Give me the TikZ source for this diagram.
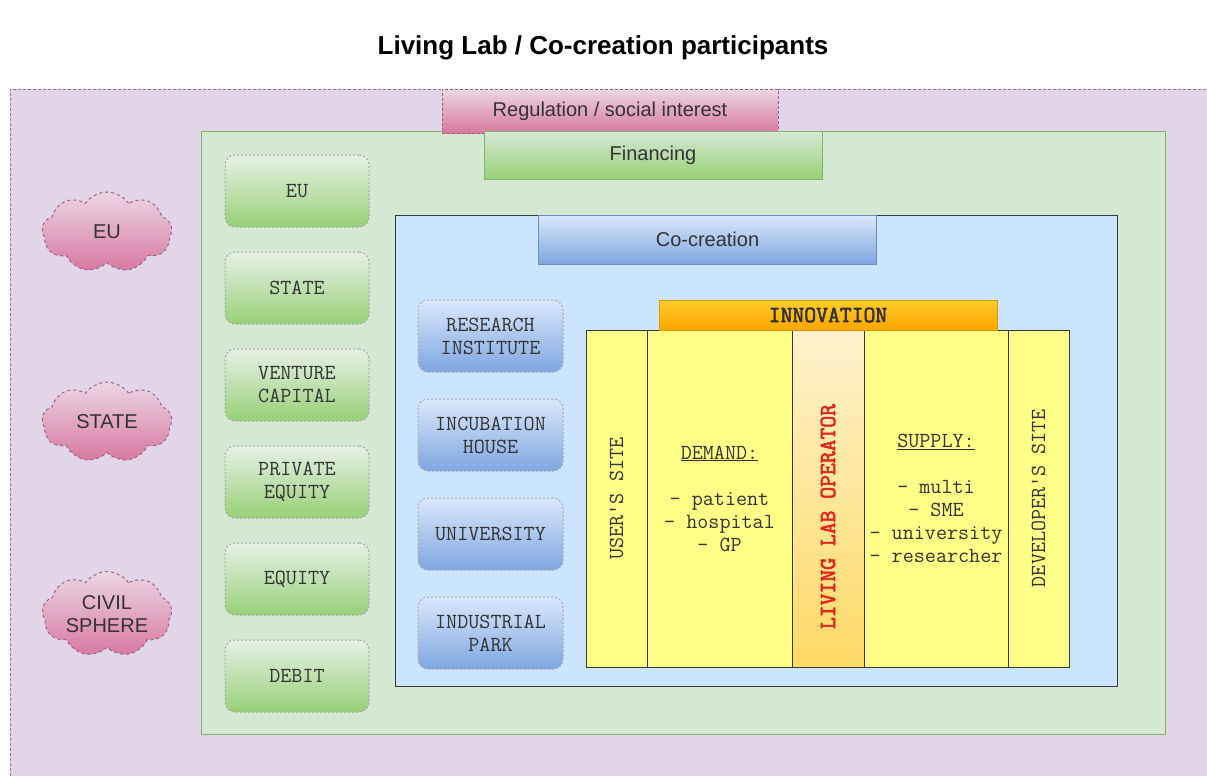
\documentclass[tikz,border=0pt]{standalone}
\usepackage{fontspec}
\setsansfont{Liberation Sans}
\newfontfamily\heavymono[FakeBold=2.5]{Latin Modern Mono}
\usepackage{xcolor}
\usepackage{tikz}
\usetikzlibrary{shapes.symbols, shadings, positioning}

\definecolor{lilac}{HTML}{E1D5E7}
\definecolor{lilacline}{HTML}{9673A6}
\definecolor{pinktop}{HTML}{EBD6E3}
\definecolor{pinkbot}{HTML}{D8789F}
\definecolor{pinkline}{HTML}{996185}
\definecolor{greenpale}{HTML}{D5E8D4}
\definecolor{greenline}{HTML}{82B366}
\definecolor{greenbot}{HTML}{97D077}
\definecolor{bluepale}{HTML}{CCE5FF}
\definecolor{bluetop}{HTML}{DAE8FC}
\definecolor{bluebot}{HTML}{7EA6E0}
\definecolor{blueline}{HTML}{6C8EBF}
\definecolor{darkline}{HTML}{36393D}
\definecolor{lemon}{HTML}{FFFF88}
\definecolor{ambertop}{HTML}{FFCD28}
\definecolor{amberbot}{HTML}{FFA500}
\definecolor{amberline}{HTML}{D79B00}
\definecolor{creamtop}{HTML}{FFF2CC}
\definecolor{creambot}{HTML}{FFD966}
\definecolor{ink}{HTML}{333333}
\definecolor{opred}{HTML}{E0241B}

\begin{document}
\begin{tikzpicture}[x=1pt, y=-1pt, line width=1pt]
\tikzstyle{sans} = [font=\sffamily\fontsize{20}{23}\selectfont, text=ink]
\tikzstyle{mono} = [font=\ttfamily\fontsize{21.5}{23}\selectfont, text=ink]
\tikzstyle{cloudy} = [cloud, cloud puffs=9, cloud puff arc=110, aspect=1.7, draw=pinkline, dashed, top color=pinktop, bottom color=pinkbot, minimum width=130, minimum height=80, inner sep=0pt, align=center, sans]
\tikzstyle{fund} = [rectangle, rounded corners=10, draw=gray!70, dash pattern=on 2pt off 2pt, top color=greenpale!60, bottom color=greenbot, minimum width=144, minimum height=72, align=center, mono]
\tikzstyle{site} = [rectangle, rounded corners=10, draw=gray!70, dash pattern=on 2pt off 2pt, top color=bluetop, bottom color=bluebot, minimum width=145, minimum height=72, align=center, mono]
\tikzstyle{column} = [rectangle, draw=darkline, fill=lemon, minimum height=337, outer sep=0pt, inner sep=0pt, align=center, mono]

\clip (0,0) rectangle (1207,776);

\node (title) at (603,48) {\sffamily\bfseries\fontsize{26}{28}\selectfont Living Lab / Co-creation participants};

% nested areas
\node (society) [rectangle, draw=lilacline, dash pattern=on 3pt off 2pt, fill=lilac, minimum width=1205, minimum height=701] at (612.5,439.5) {};
\node (money) [rectangle, draw=greenline, fill=greenpale, minimum width=964, minimum height=603] at (683,432.5) {};
\node (cocreate) [rectangle, draw=darkline, fill=bluepale, minimum width=722, minimum height=471] at (756,450.5) {};

% headers
\node (regulation) [rectangle, draw=pinkline, dash pattern=on 3pt off 2pt, top color=pinktop, bottom color=pinkbot, minimum width=336, minimum height=44, sans] at (610,111) {Regulation / social interest};
\node (financing) [rectangle, draw=greenline, top color=greenpale, bottom color=greenbot, minimum width=338, minimum height=48, sans] at (653,155.5) {Financing};
\node (cohead) [rectangle, draw=blueline, top color=bluetop, bottom color=bluebot, minimum width=338, minimum height=49, sans] at (707.5,239.5) {Co-creation};

% spheres
\node (euc) [cloudy] at (107,232) {EU};
\node (statec) [cloudy] at (107,422) {STATE};
\node (civil) [cloudy] at (107,614) {CIVIL\\SPHERE};

% sources of money
\node (eu) [fund] at (297,191) {EU};
\node (state) [fund, below=24pt of eu] {STATE};
\node (venture) [fund, below=24pt of state] {VENTURE\\CAPITAL};
\node (private) [fund, below=24pt of venture] {PRIVATE\\EQUITY};
\node (equity) [fund, below=24pt of private] {EQUITY};
\node (debit) [fund, below=24pt of equity] {DEBIT};

% places
\node (research) [site] at (490.5,336) {RESEARCH\\INSTITUTE};
\node (incubation) [site, below=26pt of research] {INCUBATION\\HOUSE};
\node (university) [site, below=26pt of incubation] {UNIVERSITY};
\node (industrial) [site, below=26pt of university] {INDUSTRIAL\\PARK};

% innovation block
\node (user) [column, minimum width=61] at (616.5,498.5) {};
\node (demand) [column, minimum width=145, right=0pt of user] {\underline{DEMAND:}\\[23pt]- patient\\- hospital\\- GP};
\node (llo) [column, minimum width=72, top color=creamtop, bottom color=creambot, right=0pt of demand] {};
\node (supply) [column, minimum width=144, right=0pt of llo] {\underline{SUPPLY:}\\[23pt]- multi\\- SME\\- university\\- researcher};
\node (developer) [column, minimum width=61, right=0pt of supply] {};
\node (innovation) [rectangle, draw=amberline, top color=ambertop, bottom color=amberbot, minimum width=338, minimum height=30, outer sep=0pt, font=\heavymono\fontsize{23}{23}\selectfont, text=ink, above=0pt of llo] {INNOVATION};

\node (usertext) [mono, rotate=90] at (user) {USER'S SITE};
\node (devtext) [mono, rotate=90] at (developer) {DEVELOPER'S SITE};
\node (llotext) [rotate=90, font=\heavymono\fontsize{23}{23}\selectfont, text=opred] at ([yshift=-18pt]llo.center) {LIVING LAB OPERATOR};

\end{tikzpicture}
\end{document}
